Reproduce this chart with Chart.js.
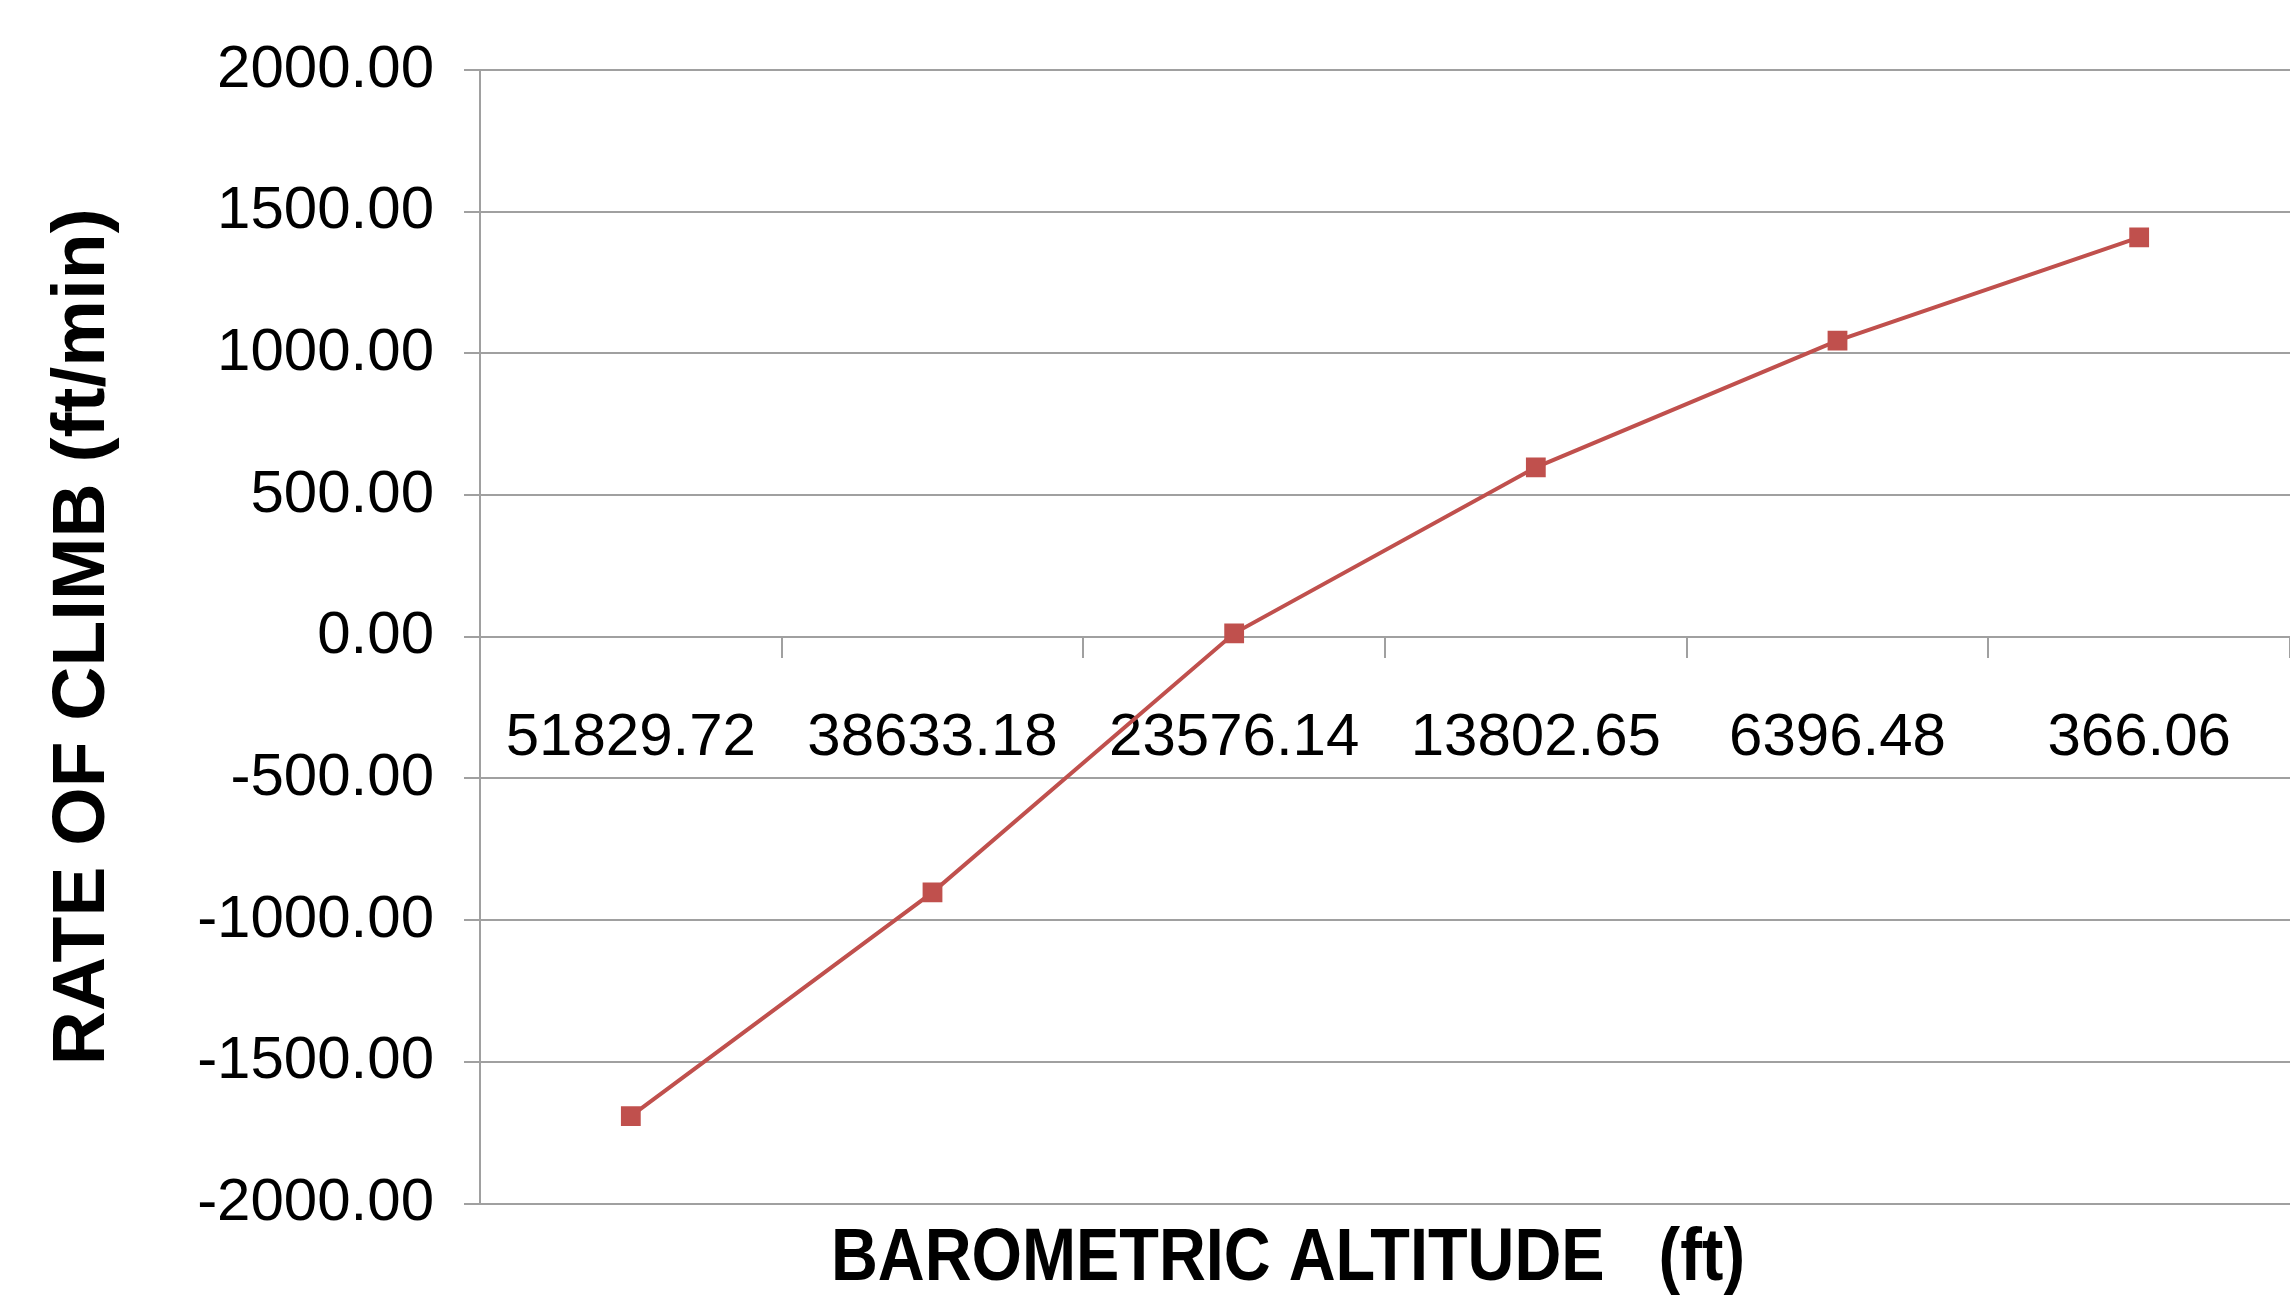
<!DOCTYPE html>
<html>
<head>
<meta charset="utf-8">
<title>Rate of Climb vs Barometric Altitude</title>
<script src="https://cdn.jsdelivr.net/npm/chart.js@4/dist/chart.umd.min.js"></script>
<style>
  html, body { margin: 0; padding: 0; background: #ffffff; }
  #wrap { width: 2290px; height: 1298px; }
</style>
</head>
<body>
<div id="wrap"><canvas id="chart" width="2290" height="1298"></canvas></div>
<script>
// Barometric altitude readings (ft), shown as categories from high to low
const altitudeLabels = ['51829.72', '38633.18', '23576.14', '13802.65', '6396.48', '366.06'];
// Rate of climb at each altitude (ft/min)
const rateOfClimb = [-1692, -902, 12, 598, 1045, 1409];
// Value axis range and step
const yMin = -2000;
const yMax = 2000;
const yStep = 500;

const xTitleText = 'BAROMETRIC ALTITUDE   (ft)';
const yTitleText = 'RATE OF CLIMB (ft/min)';

const gridGray = '#a0a0a0';
const seriesRed = '#c0504d';
const fontFamily = '"Liberation Sans", Arial, "DejaVu Sans", sans-serif';

// Draws the category-axis title below the plot
const xTitlePlugin = {
  id: 'xTitle',
  afterDraw(chart) {
    const { ctx, chartArea } = chart;
    const cx = chartArea.left + (chartArea.right - chartArea.left) * 0.4464;
    const cy = chartArea.bottom + 56;
    ctx.save();
    ctx.fillStyle = '#000000';
    ctx.font = 'bold 75px ' + fontFamily;
    ctx.textAlign = 'center';
    ctx.textBaseline = 'middle';
    ctx.translate(cx, cy);
    ctx.scale(0.865, 1);
    ctx.fillText(xTitleText, 0, 0);
    ctx.restore();
  }
};

new Chart(document.getElementById('chart'), {
  type: 'line',
  data: {
    labels: altitudeLabels,
    datasets: [{
      label: 'Rate of climb',
      data: rateOfClimb,
      borderColor: seriesRed,
      backgroundColor: seriesRed,
      borderWidth: 4,
      tension: 0,
      fill: false,
      pointStyle: 'rect',
      pointRadius: 14,
      pointHoverRadius: 14,
      pointBorderWidth: 0,
      pointBackgroundColor: seriesRed,
      pointBorderColor: seriesRed
    }]
  },
  options: {
    responsive: false,
    devicePixelRatio: 1,
    animation: false,
    layout: { autoPadding: false, padding: { top: 70, bottom: 94.5, left: 0, right: 0 } },
    plugins: {
      legend: { display: false },
      tooltip: { enabled: false },
      title: { display: false }
    },
    scales: {
      x: {
        type: 'category',
        position: { y: 0 },
        offset: true,
        grid: {
          offset: true,
          drawOnChartArea: false,
          drawTicks: true,
          tickLength: 20,
          color: gridGray,
          lineWidth: 2
        },
        border: { display: true, color: gridGray, width: 2 },
        ticks: {
          color: '#000000',
          font: { family: fontFamily, size: 60 },
          padding: 46,
          maxRotation: 0,
          autoSkip: false
        }
      },
      y: {
        type: 'linear',
        position: 'left',
        min: yMin,
        max: yMax,
        afterFit(scale) { scale.width = 480; },
        grid: {
          color: gridGray,
          lineWidth: 2,
          drawTicks: true,
          tickLength: 16
        },
        border: { display: true, color: gridGray, width: 2 },
        ticks: {
          stepSize: yStep,
          color: '#000000',
          font: { family: fontFamily, size: 60 },
          padding: 30,
          callback: (v) => Number(v).toFixed(2)
        },
        title: {
          display: true,
          text: yTitleText,
          color: '#000000',
          font: { family: fontFamily, size: 75, weight: 'bold' },
          padding: { top: 38, bottom: 0 }
        }
      }
    }
  },
  plugins: [xTitlePlugin]
});
</script>
</body>
</html>
